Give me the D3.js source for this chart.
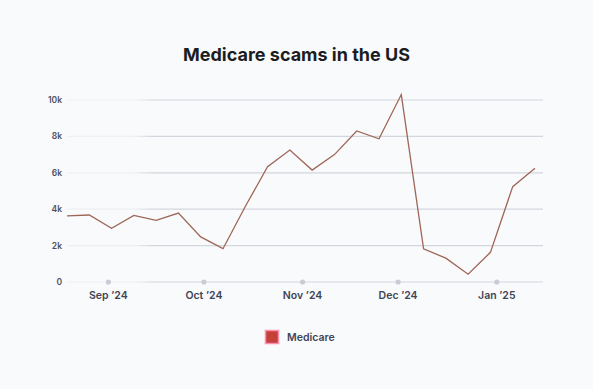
<!DOCTYPE html>
<html>
<head>
<meta charset="utf-8">
<script src="https://cdn.jsdelivr.net/npm/d3@7"></script>
<style>
  body { margin: 0; background: #f9fafc; }
  svg { display: block; }
</style>
</head>
<body>
<div id="chart"></div>
<script>
// weekly counts, week starting Aug 19 2024
var weeks = ["2024-08-19","2024-08-26","2024-09-02","2024-09-09","2024-09-16","2024-09-23",
             "2024-09-30","2024-10-07","2024-10-14","2024-10-21","2024-10-28","2024-11-04",
             "2024-11-11","2024-11-18","2024-11-25","2024-12-02","2024-12-09","2024-12-16",
             "2024-12-23","2024-12-30","2025-01-06","2025-01-13"];
var medicare = [3630,3680,2950,3660,3390,3790,2480,1830,4150,6330,7250,6150,
                7000,8300,7870,10300,1820,1310,430,1630,5240,6250];
var yTicks = [0,2000,4000,6000,8000,10000];
var monthTicks = ["2024-09-01","2024-10-01","2024-11-01","2024-12-01","2025-01-01"];

var parse = d3.timeParse("%Y-%m-%d");
var W = 593, H = 389;
var margin = {top: 100, right: 50, bottom: 107, left: 67};
var w = W - margin.left - margin.right;
var h = H - margin.top - margin.bottom;

var svg = d3.select("#chart").append("svg")
    .attr("width", W).attr("height", H)
    .style("font-family", "Inter, 'Noto Sans', sans-serif");

svg.append("rect").attr("width", W).attr("height", H).attr("fill", "#f9fafc");

var defs = svg.append("defs");
var grad = defs.append("linearGradient").attr("id", "gridFade")
    .attr("gradientUnits", "userSpaceOnUse")
    .attr("x1", margin.left).attr("x2", margin.left + w).attr("y1", 0).attr("y2", 0);
grad.append("stop").attr("offset", "0%").attr("stop-color", "#d4d6de").attr("stop-opacity", 0.3);
grad.append("stop").attr("offset", "4%").attr("stop-color", "#d4d6de").attr("stop-opacity", 1);
grad.append("stop").attr("offset", "94%").attr("stop-color", "#d4d6de").attr("stop-opacity", 1);
grad.append("stop").attr("offset", "100%").attr("stop-color", "#d4d6de").attr("stop-opacity", 0);

var g = svg.append("g").attr("transform", "translate(" + margin.left + "," + margin.top + ")");

var x = d3.scaleTime()
    .domain([parse(weeks[0]), parse(weeks[weeks.length - 1])])
    .range([0, w - 8]);
var y = d3.scaleLinear().domain([0, 10000]).range([h, 0]);

// gridlines
g.selectAll("line.grid")
  .data(yTicks)
  .enter()
  .append("line")
    .attr("class", "grid")
    .attr("x1", 0).attr("x2", w)
    .attr("y1", function(d) { return y(d); })
    .attr("y2", function(d) { return y(d); })
    .attr("stroke", "url(#gridFade)")
    .attr("stroke-width", 1.2);

// y labels
g.selectAll("text.ylab")
  .data(yTicks)
  .enter()
  .append("text")
    .attr("class", "ylab")
    .attr("x", -5)
    .attr("y", function(d) { return y(d) + 3; })
    .attr("text-anchor", "end")
    .attr("font-size", "8.5px")
    .attr("font-weight", 600)
    .attr("fill", "#4b4f5e")
    .text(function(d) { return d === 0 ? "0" : (d / 1000) + "k"; });

// month ticks
var mt = monthTicks.map(parse);
g.selectAll("circle.tick")
  .data(mt)
  .enter()
  .append("circle")
    .attr("cx", function(d) { return x(d); })
    .attr("cy", h)
    .attr("r", 2.6)
    .attr("fill", "#c9ccd4");

var fmt = d3.timeFormat("%b '%y");
g.selectAll("text.xlab")
  .data(mt)
  .enter()
  .append("text")
    .attr("x", function(d) { return x(d); })
    .attr("y", h + 17)
    .attr("text-anchor", "middle")
    .attr("font-size", "10.5px")
    .attr("font-weight", 600)
    .attr("fill", "#3f4457")
    .text(function(d) { return fmt(d).replace("'", "\u2019"); });

// line
var line = d3.line()
    .x(function(d, i) { return x(parse(weeks[i])); })
    .y(function(d) { return y(d); });

g.append("path")
  .datum(medicare)
  .attr("d", line)
  .attr("fill", "none")
  .attr("stroke", "#9e6656")
  .attr("stroke-width", 1.3)
  .attr("stroke-linejoin", "miter");

// title
svg.append("text")
  .attr("x", W / 2)
  .attr("y", 61)
  .attr("text-anchor", "middle")
  .attr("font-size", "18px")
  .attr("font-weight", 700)
  .attr("fill", "#1c1d22")
  .text("Medicare scams in the US");

// legend
svg.append("rect")
  .attr("x", 265.5).attr("y", 330.5)
  .attr("width", 13).attr("height", 13)
  .attr("fill", "#c6403a")
  .attr("stroke", "#ff8fae")
  .attr("stroke-width", 1.5);
svg.append("text")
  .attr("x", 287).attr("y", 340.5)
  .attr("font-size", "10.5px")
  .attr("font-weight", 600)
  .attr("fill", "#3f4457")
  .text("Medicare");
</script>
</body>
</html>
